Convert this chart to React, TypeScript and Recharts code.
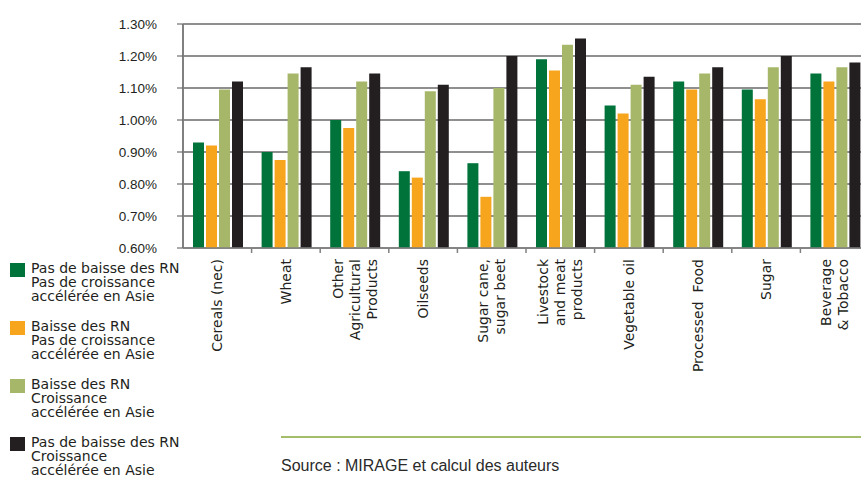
import { BarChart, Bar, XAxis, YAxis, CartesianGrid, Legend } from 'recharts';

// product groups (line breaks = label lines)
const CATEGORIES = [
  'Cereals (nec)',
  'Wheat',
  'Other\nAgricultural\nProducts',
  'Oilseeds',
  'Sugar cane,\nsugar beet',
  'Livestock\nand meat\nproducts',
  'Vegetable oil',
  'Processed  Food',
  'Sugar',
  'Beverage\n& Tobacco',
];

// values in %
const NO_DROP_NO_ASIA = [0.93, 0.9, 1.0, 0.84, 0.865, 1.19, 1.045, 1.12, 1.095, 1.145];
const DROP_NO_ASIA = [0.92, 0.875, 0.975, 0.82, 0.76, 1.155, 1.02, 1.095, 1.065, 1.12];
const DROP_ASIA = [1.095, 1.145, 1.12, 1.09, 1.1, 1.235, 1.11, 1.145, 1.165, 1.165];
const NO_DROP_ASIA = [1.12, 1.165, 1.145, 1.11, 1.2, 1.255, 1.135, 1.165, 1.2, 1.18];

const Y_TICKS = [0.6, 0.7, 0.8, 0.9, 1.0, 1.1, 1.2, 1.3];

const SERIES = [
  { key: 'a', name: 'Pas de baisse des RN\nPas de croissance\naccélérée en Asie', color: '#00733a', values: NO_DROP_NO_ASIA },
  { key: 'b', name: 'Baisse des RN\nPas de croissance\naccélérée en Asie', color: '#f6a51c', values: DROP_NO_ASIA },
  { key: 'c', name: 'Baisse des RN\nCroissance\naccélérée en Asie', color: '#a6b76a', values: DROP_ASIA },
  { key: 'd', name: 'Pas de baisse des RN\nCroissance\naccélérée en Asie', color: '#231f20', values: NO_DROP_ASIA },
];

const data = CATEGORIES.map((name, i) => {
  const row: Record<string, any> = { name };
  SERIES.forEach(s => { row[s.key] = s.values[i]; });
  return row;
});

const labelFont = '"DejaVu Sans", sans-serif';

function CategoryTick(props: any) {
  const { x, y, payload } = props;
  const half = payload && typeof payload.offset === 'number' && payload.offset > 0 ? payload.offset : 34.3;
  const lines = String(payload.value).split('\n');
  const lh = 17;
  return (
    <g>
      <line x1={x + half} y1={y} x2={x + half} y2={y + 5} stroke="#808080" strokeWidth={1.5} />
      <g transform={`translate(${x},${y + 11}) rotate(-90)`}>
        {lines.map((ln, i) => (
          <text
            key={i}
            x={0}
            y={(i - (lines.length - 1) / 2) * lh + 5}
            textAnchor="end"
            fontFamily={labelFont}
            fontSize={14}
            fill="#231f20"
            style={{ whiteSpace: 'pre' }}
          >
            {ln}
          </text>
        ))}
      </g>
    </g>
  );
}

function LegendBlock() {
  return (
    <div style={{ display: 'flex', flexDirection: 'column', gap: 16 }}>
      {SERIES.map(s => (
        <div key={s.key} style={{ display: 'flex', alignItems: 'flex-start' }}>
          <div style={{ width: 15, height: 14, background: s.color, marginTop: 2, marginLeft: 10, flexShrink: 0 }} />
          <div style={{ marginLeft: 6, fontFamily: labelFont, fontSize: 14, lineHeight: '14px', color: '#231f20', whiteSpace: 'pre' }}>
            {s.name}
          </div>
        </div>
      ))}
    </div>
  );
}

export default function App() {
  return (
    <div style={{ position: 'absolute', left: 0, top: 0, width: 861, height: 482, overflow: 'hidden', background: '#fff' }}>
      <BarChart
        width={880}
        height={482}
        data={data}
        margin={{ top: 24, right: 11, left: 0, bottom: 34 }}
        barCategoryGap={10}
        barGap={2}
      >
        <CartesianGrid vertical={false} stroke="#6a6a6a" strokeWidth={1.5} />
        <XAxis
          dataKey="name"
          interval={0}
          height={200}
          tickSize={0}
          tickMargin={0}
          tick={<CategoryTick />}
          axisLine={{ stroke: '#808080', strokeWidth: 1.5 }}
        />
        <YAxis
          width={183}
          domain={[0.6, 1.3]}
          ticks={Y_TICKS}
          tickFormatter={(v: number) => `${v.toFixed(2)}%`}
          tickSize={6}
          tickMargin={20}
          tick={{ fill: '#231f20', fontSize: 13.5, fontFamily: '"Liberation Sans", Arial, sans-serif' }}
          tickLine={{ stroke: '#555' }}
          axisLine={{ stroke: '#808080', strokeWidth: 2 }}
        />
        <Legend
          layout="vertical"
          align="center"
          verticalAlign="middle"
          content={<LegendBlock />}
          wrapperStyle={{ left: 0, top: 261, width: 180 }}
        />
        {SERIES.map(s => (
          <Bar key={s.key} dataKey={s.key} name={s.name} fill={s.color} isAnimationActive={false} />
        ))}
      </BarChart>
      <div style={{ position: 'absolute', left: 281, top: 436, width: 600, height: 2, background: '#a3bd6b' }} />
      <div
        style={{
          position: 'absolute',
          left: 281,
          top: 458,
          fontFamily: '"Liberation Sans", Arial, sans-serif',
          fontSize: 16,
          lineHeight: '16px',
          color: '#2a2a2a',
          whiteSpace: 'nowrap',
        }}
      >
        Source : MIRAGE et calcul des auteurs
      </div>
    </div>
  );
}
